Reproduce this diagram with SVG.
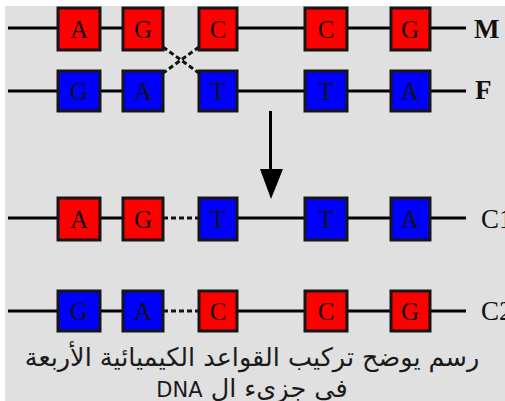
<svg xmlns="http://www.w3.org/2000/svg" width="505" height="401" viewBox="0 0 505 401">
  <defs>
    <style>
      .bg { fill: #e0e0e0; }
      .strand { stroke: #000; stroke-width: 3; fill: none; }
      .dash { stroke: #111; stroke-width: 3; fill: none; stroke-dasharray: 5 3; }
      .red { fill: #ff0000; stroke: #161616; stroke-width: 3; }
      .blue { fill: #0000ff; stroke: #161616; stroke-width: 3; }
      .base { font-family: "Liberation Serif", "DejaVu Serif", serif; font-size: 25px; fill: #111; text-anchor: middle; }
      .tag { font-family: "Liberation Serif", "DejaVu Serif", serif; font-size: 27px; fill: #111; }
      .caption { font-family: "DejaVu Sans", "Noto Sans", sans-serif; font-size: 25.5px; fill: #1a1a1a; text-anchor: middle; direction: rtl; }
    </style>
  </defs>
  <rect width="505" height="401" fill="#ffffff"/>
  <rect class="bg" x="5" y="6" width="500" height="395"/>

  <!-- strands and crossover -->
  <g id="connectors">
    <!-- M strand -->
    <path class="strand" d="M8 28H58 M100 28H123 M237 28H305 M347 28H391 M430 28H466"/>
    <!-- F strand -->
    <path class="strand" d="M8 91H58 M100 91H123 M237 91H305 M347 91H391 M430 91H466"/>
    <!-- crossover between columns 2 and 3 -->
    <path class="dash" d="M163 47L199 73 M199 47L163 73"/>
    <!-- C1 strand -->
    <path class="strand" d="M8 218H58 M100 218H123 M237 218H305 M347 218H391 M430 218H466"/>
    <path class="dash" d="M163 218H198"/>
    <!-- C2 strand -->
    <path class="strand" d="M8 311H58 M100 311H123 M237 311H305 M347 311H391 M430 311H466"/>
    <path class="dash" d="M163 311H198"/>
    <!-- arrow -->
    <path d="M270.5 111V170" stroke="#000" stroke-width="3"/>
    <path d="M260 169L283 169L271 199Z" fill="#000"/>
  </g>

  <!-- row M -->
  <g id="m-a"><rect class="red" x="58" y="8" width="42" height="42"/><text class="base" x="79" y="38">A</text></g>
  <g id="m-g"><rect class="red" x="123" y="8" width="40" height="42"/><text class="base" x="143" y="38">G</text></g>
  <g id="m-c1"><rect class="red" x="199" y="8" width="38" height="42"/><text class="base" x="218" y="38">C</text></g>
  <g id="m-c2"><rect class="red" x="305" y="8" width="42" height="42"/><text class="base" x="326" y="38">C</text></g>
  <g id="m-g2"><rect class="red" x="391" y="8" width="39" height="42"/><text class="base" x="410" y="38">G</text></g>
  <g id="label-m"><text class="tag" x="474" y="38" font-weight="bold">M</text></g>

  <!-- row F -->
  <g id="f-g"><rect class="blue" x="58" y="71" width="42" height="40"/><text class="base" x="79" y="100">G</text></g>
  <g id="f-a"><rect class="blue" x="123" y="71" width="40" height="40"/><text class="base" x="143" y="100">A</text></g>
  <g id="f-t1"><rect class="blue" x="199" y="71" width="38" height="40"/><text class="base" x="218" y="100">T</text></g>
  <g id="f-t2"><rect class="blue" x="305" y="71" width="42" height="40"/><text class="base" x="326" y="100">T</text></g>
  <g id="f-a2"><rect class="blue" x="391" y="71" width="39" height="40"/><text class="base" x="410" y="100">A</text></g>
  <g id="label-f"><text class="tag" x="475" y="99" font-weight="bold">F</text></g>

  <!-- row C1 -->
  <g id="c1-a"><rect class="red" x="58" y="198" width="42" height="42"/><text class="base" x="79" y="228">A</text></g>
  <g id="c1-g"><rect class="red" x="123" y="198" width="40" height="42"/><text class="base" x="143" y="228">G</text></g>
  <g id="c1-t1"><rect class="blue" x="199" y="198" width="38" height="42"/><text class="base" x="218" y="228">T</text></g>
  <g id="c1-t2"><rect class="blue" x="305" y="198" width="42" height="42"/><text class="base" x="326" y="228">T</text></g>
  <g id="c1-a2"><rect class="blue" x="391" y="198" width="39" height="42"/><text class="base" x="410" y="228">A</text></g>
  <g id="label-c1"><text class="tag" x="481" y="228">C1</text></g>

  <!-- row C2 -->
  <g id="c2-g"><rect class="blue" x="58" y="291" width="42" height="40"/><text class="base" x="79" y="320">G</text></g>
  <g id="c2-a"><rect class="blue" x="123" y="291" width="40" height="40"/><text class="base" x="143" y="320">A</text></g>
  <g id="c2-c1"><rect class="red" x="199" y="291" width="38" height="40"/><text class="base" x="218" y="320">C</text></g>
  <g id="c2-c2"><rect class="red" x="305" y="291" width="42" height="40"/><text class="base" x="326" y="320">C</text></g>
  <g id="c2-g2"><rect class="red" x="391" y="291" width="39" height="40"/><text class="base" x="410" y="320">G</text></g>
  <g id="label-c2"><text class="tag" x="481" y="320">C2</text></g>

  <!-- caption -->
  <g id="caption">
    <text class="caption" x="252" y="366">رسم يوضح تركيب القواعد الكيميائية الأربعة</text>
    <text class="caption" x="252" y="397">في جزيء ال <tspan font-size="21">DNA</tspan></text>
  </g>
</svg>
